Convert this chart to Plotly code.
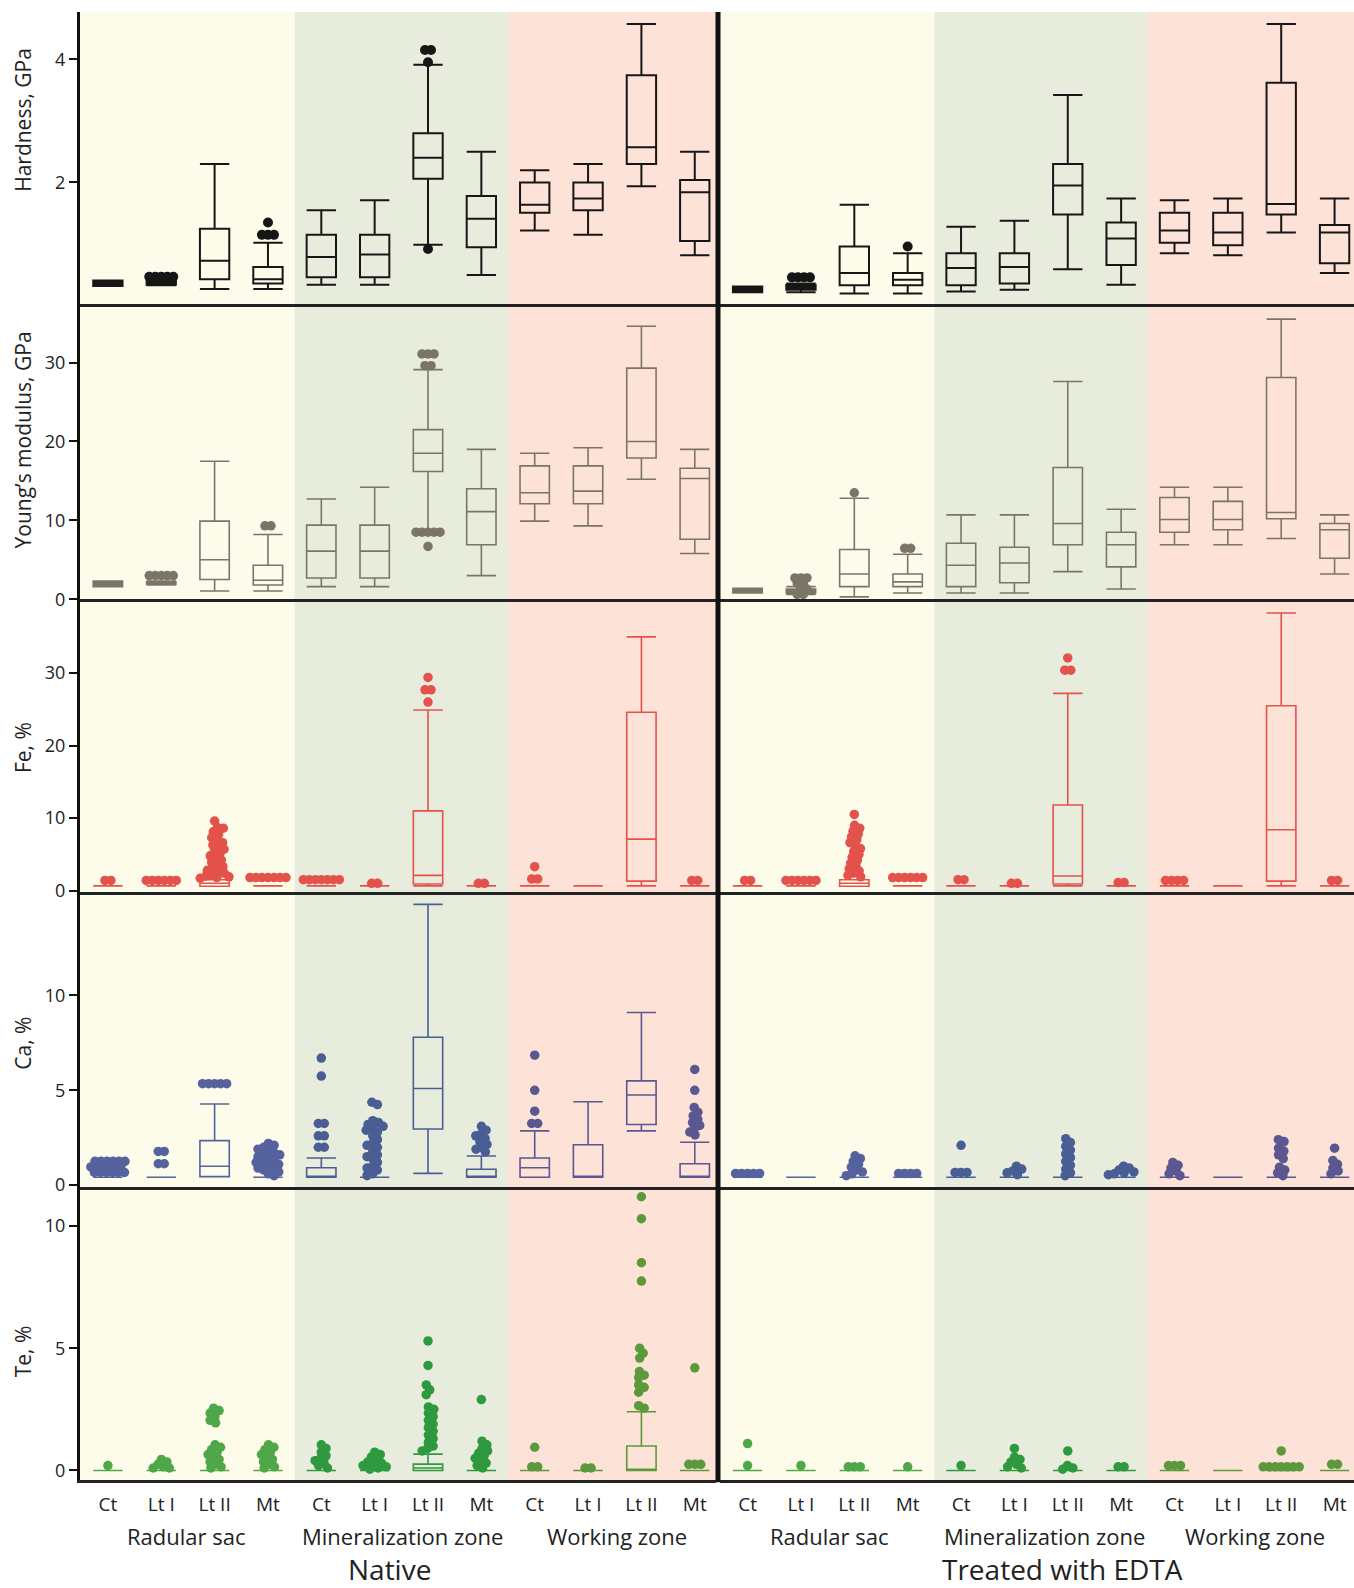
import math
import plotly.graph_objects as go

W = 1354
REF_H = 1588   # pixel targets below are measured in the 1354x1588 picture
FIG_H = 1597   # layout height (the photographed page is fitted to 1588 rows)

categories = ["Ct", "Lt I", "Lt II", "Mt"] * 3
zones = ["Radular sac", "Mineralization zone", "Working zone"]
panels = ["Native", "Treated with EDTA"]

# ---------------- Hardness, GPa ----------------
hard_nat_lo = [0.32, 0.33, 0.27, 0.27, 0.34, 0.34, 0.99, 0.50, 1.22, 1.15, 1.94, 0.82]
hard_nat_q1 = [0.32, 0.34, 0.43, 0.36, 0.46, 0.46, 2.06, 0.95, 1.51, 1.55, 2.30, 1.05]
hard_nat_med = [0.36, 0.37, 0.73, 0.43, 0.79, 0.83, 2.40, 1.41, 1.64, 1.74, 2.57, 1.84]
hard_nat_q3 = [0.41, 0.40, 1.25, 0.63, 1.15, 1.15, 2.80, 1.78, 2.00, 2.00, 3.74, 2.04]
hard_nat_hi = [0.41, 0.42, 2.30, 1.02, 1.55, 1.71, 3.91, 2.50, 2.20, 2.30, 4.57, 2.50]
hard_nat_out = [[], [0.47, 0.47, 0.47, 0.47, 0.47], [], [1.35, 1.15, 1.15, 1.15], [], [],
                [4.15, 4.15, 3.95, 0.92], [], [], [], [], []]

hard_edta_lo = [0.22, 0.22, 0.20, 0.20, 0.23, 0.26, 0.59, 0.34, 0.85, 0.82, 1.19, 0.53]
hard_edta_q1 = [0.22, 0.26, 0.33, 0.33, 0.33, 0.36, 1.48, 0.66, 1.02, 0.98, 1.48, 0.69]
hard_edta_med = [0.26, 0.30, 0.53, 0.42, 0.61, 0.63, 1.95, 1.09, 1.22, 1.19, 1.65, 1.19]
hard_edta_q3 = [0.31, 0.34, 0.96, 0.53, 0.85, 0.85, 2.30, 1.35, 1.51, 1.51, 3.62, 1.31]
hard_edta_hi = [0.31, 0.36, 1.64, 0.85, 1.28, 1.38, 3.42, 1.74, 1.71, 1.74, 4.57, 1.74]
hard_edta_out = [[], [0.46, 0.46, 0.46, 0.46], [], [0.96], [], [], [], [], [], [], [], []]

# ---------------- Young's modulus, GPa ----------------
young_nat_lo = [1.6, 1.8, 1.05, 1.05, 1.6, 1.6, 8.3, 3.0, 9.9, 9.3, 15.2, 5.8]
young_nat_q1 = [1.6, 1.9, 2.5, 1.8, 2.7, 2.7, 16.2, 6.9, 12.1, 12.1, 17.9, 7.6]
young_nat_med = [1.9, 2.0, 5.0, 2.4, 6.1, 6.1, 18.5, 11.1, 13.5, 13.7, 20.0, 15.3]
young_nat_q3 = [2.3, 2.2, 9.9, 4.3, 9.4, 9.4, 21.5, 14.0, 16.9, 16.9, 29.3, 16.6]
young_nat_hi = [2.3, 2.3, 17.5, 8.2, 12.7, 14.2, 29.1, 19.0, 18.5, 19.2, 34.6, 19.0]
young_nat_out = [[], [3.0, 3.0, 3.0, 3.0, 3.0], [], [9.3, 9.3], [], [],
                 [31.1, 31.1, 31.1, 29.6, 29.6, 8.5, 8.5, 8.5, 8.5, 8.5, 6.7], [], [], [], [], []]

young_edta_lo = [0.8, 0.6, 0.3, 0.8, 0.8, 0.8, 3.5, 1.3, 6.9, 6.9, 7.7, 3.2]
young_edta_q1 = [0.8, 0.8, 1.6, 1.6, 1.6, 2.1, 6.9, 4.1, 8.5, 8.8, 10.2, 5.2]
young_edta_med = [1.1, 1.0, 3.2, 2.2, 4.3, 4.6, 9.6, 6.9, 10.1, 10.1, 11.0, 8.8]
young_edta_q3 = [1.4, 1.3, 6.3, 3.2, 7.1, 6.6, 16.7, 8.5, 12.9, 12.4, 28.1, 9.6]
young_edta_hi = [1.4, 1.6, 12.8, 5.7, 10.7, 10.7, 27.6, 11.4, 14.2, 14.2, 35.5, 10.7]
young_edta_out = [[], [2.7, 2.7, 2.7, 2.0, 2.0, 1.3, 1.3, 0.6, 0.6], [13.5], [6.45, 6.45],
                  [], [], [], [], [], [], [], []]

# ---------------- Fe, % ----------------
fe_nat_lo = [0.65, 0.65, 0.6, 0.65, 0.65, 0.65, 0.65, 0.65, 0.65, 0.65, 0.65, 0.65]
fe_nat_q1 = [0.65, 0.65, 0.6, 0.65, 0.65, 0.65, 0.9, 0.65, 0.65, 0.65, 1.3, 0.65]
fe_nat_med = [0.65, 0.65, 1.0, 0.65, 0.65, 0.65, 2.1, 0.65, 0.65, 0.65, 7.1, 0.65]
fe_nat_q3 = [0.65, 0.65, 1.5, 0.65, 0.65, 0.65, 11.0, 0.65, 0.65, 0.65, 24.6, 0.65]
fe_nat_hi = [0.65, 0.65, 1.5, 0.65, 0.65, 0.65, 24.9, 0.65, 0.65, 0.65, 35.0, 0.65]
fe_nat_out = [
    [1.4, 1.4],
    [1.4, 1.4, 1.4, 1.4, 1.4, 1.4],
    [9.6, 8.7, 8.6, 8.1, 7.7, 7.3, 6.9, 6.6, 6.3, 6.0, 5.7, 5.4, 5.1, 4.8, 4.5, 4.2,
     3.9, 3.6, 3.3, 3.0, 2.8, 2.6, 2.4, 2.2, 2.0, 1.9, 1.8, 1.7],
    [1.8, 1.8, 1.8, 1.8, 1.8, 1.8, 1.8],
    [1.5, 1.5, 1.5, 1.5, 1.5, 1.5, 1.5],
    [1.0, 1.0],
    [29.4, 27.7, 27.7, 26.0],
    [1.0, 1.0],
    [3.3, 1.6, 1.6],
    [],
    [],
    [1.4, 1.4],
]

fe_edta_lo = [0.65, 0.65, 0.6, 0.65, 0.65, 0.65, 0.65, 0.65, 0.65, 0.65, 0.65, 0.65]
fe_edta_q1 = [0.65, 0.65, 0.6, 0.65, 0.65, 0.65, 0.9, 0.65, 0.65, 0.65, 1.3, 0.65]
fe_edta_med = [0.65, 0.65, 1.0, 0.65, 0.65, 0.65, 2.0, 0.65, 0.65, 0.65, 8.4, 0.65]
fe_edta_q3 = [0.65, 0.65, 1.5, 0.65, 0.65, 0.65, 11.8, 0.65, 0.65, 0.65, 25.5, 0.65]
fe_edta_hi = [0.65, 0.65, 1.5, 0.65, 0.65, 0.65, 27.2, 0.65, 0.65, 0.65, 38.3, 0.65]
fe_edta_out = [
    [1.4, 1.4],
    [1.4, 1.4, 1.4, 1.4, 1.4, 1.4],
    [10.5, 9.0, 8.6, 8.2, 7.8, 7.4, 7.0, 6.6, 6.2, 5.8, 5.4, 5.0, 4.6, 4.2, 3.8,
     3.4, 3.0, 2.7, 2.4, 2.1, 1.9],
    [1.8, 1.8, 1.8, 1.8, 1.8, 1.8],
    [1.5, 1.5],
    [1.0, 1.0],
    [32.1, 30.4, 30.4],
    [1.1, 1.1],
    [1.4, 1.4, 1.4, 1.4],
    [],
    [],
    [1.4, 1.4],
]

# ---------------- Ca, % ----------------
ca_nat_lo = [0.42, 0.42, 0.45, 0.42, 0.42, 0.42, 0.62, 0.42, 0.42, 0.42, 2.86, 0.42]
ca_nat_q1 = [0.42, 0.42, 0.45, 0.42, 0.42, 0.42, 2.96, 0.42, 0.42, 0.42, 3.20, 0.42]
ca_nat_med = [0.42, 0.42, 1.00, 0.42, 0.42, 0.42, 5.10, 0.42, 0.92, 0.42, 4.75, 0.42]
ca_nat_q3 = [0.42, 0.42, 2.35, 0.42, 0.92, 0.42, 7.80, 0.84, 1.43, 2.13, 5.50, 1.13]
ca_nat_hi = [0.42, 0.42, 4.28, 0.42, 1.43, 0.42, 14.8, 1.54, 2.86, 4.40, 9.10, 2.26]
ca_nat_out = [
    [1.26, 1.26, 1.26, 1.26, 1.26, 1.26, 0.96, 0.96, 0.96, 0.96, 0.96, 0.96,
     0.67, 0.67, 0.67, 0.67, 0.67, 0.67],
    [1.78, 1.78, 1.13, 1.13],
    [5.35, 5.35, 5.35, 5.35, 5.35],
    [2.2, 2.1, 2.0, 1.9, 1.8, 1.7, 1.6, 1.5, 1.4, 1.3, 1.2, 1.1, 1.0, 0.9, 0.8, 0.7,
     0.6, 0.5, 1.6, 1.2, 0.9],
    [6.7, 5.75, 3.25, 3.25, 2.6, 2.6, 2.0, 2.0],
    [4.37, 4.25, 3.4, 3.3, 3.2, 3.1, 3.0, 2.8, 2.6, 2.4, 2.2, 2.0, 1.8, 1.6, 1.4,
     1.2, 1.0, 0.8, 0.6, 0.5, 2.9, 2.1, 1.5, 0.9],
    [],
    [3.1, 2.9, 2.7, 2.6, 2.45, 2.3, 2.15, 2.0, 1.9, 1.75],
    [6.85, 5.0, 3.9, 3.25, 3.25],
    [],
    [],
    [6.1, 5.0, 4.1, 3.85, 3.65, 3.45, 3.3, 3.15, 3.0, 2.8, 2.65],
]

ca_edta_lo = [0.42] * 12
ca_edta_q1 = [0.42] * 12
ca_edta_med = [0.42] * 12
ca_edta_q3 = [0.42] * 12
ca_edta_hi = [0.42] * 12
ca_edta_out = [
    [0.62, 0.62, 0.62, 0.62, 0.62],
    [],
    [1.55, 1.4, 1.25, 1.1, 0.95, 0.8, 0.7, 0.6, 0.5],
    [0.62, 0.62, 0.62, 0.62],
    [2.1, 0.67, 0.67, 0.67],
    [1.0, 0.85, 0.75, 0.65, 0.55],
    [2.45, 2.25, 2.05, 1.85, 1.65, 1.45, 1.25, 1.05, 0.85, 0.65, 0.5],
    [1.0, 0.9, 0.8, 0.7, 0.65, 0.6, 0.55],
    [1.2, 1.05, 0.9, 0.75, 0.6, 0.5],
    [],
    [2.4, 2.3, 1.95, 1.8, 1.6, 1.4, 0.95, 0.8, 0.65, 0.5],
    [1.95, 1.3, 1.1, 0.9, 0.75, 0.6],
]

# ---------------- Te, % ----------------
te_nat_lo = [0.0] * 12
te_nat_q1 = [0.0] * 12
te_nat_med = [0, 0, 0, 0, 0, 0, 0.1, 0, 0, 0, 0.05, 0]
te_nat_q3 = [0, 0, 0, 0, 0, 0, 0.26, 0, 0, 0, 1.0, 0]
te_nat_hi = [0, 0, 0, 0, 0, 0, 0.67, 0, 0, 0, 2.4, 0]
te_nat_out = [
    [0.2],
    [0.45, 0.35, 0.25, 0.15, 0.1, 0.1],
    [2.55, 2.45, 2.35, 2.2, 2.05, 1.95, 1.05, 0.95, 0.85, 0.75, 0.65, 0.55, 0.45,
     0.35, 0.25, 0.15, 0.1],
    [1.05, 0.95, 0.85, 0.75, 0.65, 0.55, 0.45, 0.35, 0.25, 0.15, 0.1],
    [1.05, 0.9, 0.75, 0.6, 0.5, 0.4, 0.3, 0.2, 0.1],
    [0.75, 0.65, 0.55, 0.45, 0.35, 0.3, 0.25, 0.2, 0.15, 0.1, 0.05],
    [5.3, 4.3, 3.5, 3.3, 3.1, 2.6, 2.5, 2.35, 2.2, 2.05, 1.9, 1.75, 1.6, 1.45, 1.3,
     1.15, 1.0, 0.9, 0.8],
    [2.9, 1.2, 1.05, 0.9, 0.8, 0.7, 0.6, 0.5, 0.4, 0.3, 0.2, 0.1],
    [0.95, 0.15, 0.15],
    [0.1, 0.1],
    [11.2, 10.3, 8.5, 7.75, 5.0, 4.8, 4.6, 4.05, 3.9, 3.8, 3.5, 3.4, 3.2, 2.65, 2.55],
    [4.2, 0.25, 0.25, 0.25],
]

te_edta_lo = [0.0] * 12
te_edta_q1 = [0.0] * 12
te_edta_med = [0.0] * 12
te_edta_q3 = [0.0] * 12
te_edta_hi = [0.0] * 12
te_edta_out = [
    [1.1, 0.2],
    [0.2],
    [0.15, 0.15, 0.15],
    [0.15],
    [0.2],
    [0.9, 0.55, 0.45, 0.35, 0.25, 0.15, 0.1],
    [0.8, 0.2, 0.1, 0.05],
    [0.15, 0.15],
    [0.2, 0.2, 0.2],
    [],
    [0.8, 0.15, 0.15, 0.15, 0.15, 0.15, 0.15, 0.15],
    [0.25, 0.25],
]

DATA = {
    "hard": {"nat": (hard_nat_lo, hard_nat_q1, hard_nat_med, hard_nat_q3, hard_nat_hi, hard_nat_out),
             "edta": (hard_edta_lo, hard_edta_q1, hard_edta_med, hard_edta_q3, hard_edta_hi, hard_edta_out)},
    "young": {"nat": (young_nat_lo, young_nat_q1, young_nat_med, young_nat_q3, young_nat_hi, young_nat_out),
              "edta": (young_edta_lo, young_edta_q1, young_edta_med, young_edta_q3, young_edta_hi, young_edta_out)},
    "fe": {"nat": (fe_nat_lo, fe_nat_q1, fe_nat_med, fe_nat_q3, fe_nat_hi, fe_nat_out),
           "edta": (fe_edta_lo, fe_edta_q1, fe_edta_med, fe_edta_q3, fe_edta_hi, fe_edta_out)},
    "ca": {"nat": (ca_nat_lo, ca_nat_q1, ca_nat_med, ca_nat_q3, ca_nat_hi, ca_nat_out),
           "edta": (ca_edta_lo, ca_edta_q1, ca_edta_med, ca_edta_q3, ca_edta_hi, ca_edta_out)},
    "te": {"nat": (te_nat_lo, te_nat_q1, te_nat_med, te_nat_q3, te_nat_hi, te_nat_out),
           "edta": (te_edta_lo, te_edta_q1, te_edta_med, te_edta_q3, te_edta_hi, te_edta_out)},
}

ROWS = [
    dict(key="hard", title="Hardness, GPa", ticks=[2, 4], rng=[0.034, 4.767], ppy=61.7,
         colors=["#161616"] * 3, lw=2.0, title_y=120, msize=10),
    dict(key="young", title="Young\u2019s modulus, GPa", ticks=[0, 10, 20, 30], rng=[0, 37.47], ppy=7.9,
         colors=["#7b7568"] * 3, lw=1.6, title_y=441, msize=9.5),
    dict(key="fe", title="Fe, %", ticks=[0, 10, 20, 30], rng=[-0.18, 40.19], ppy=7.257,
         colors=["#e4524c"] * 3, lw=1.6, title_y=749, msize=9.5),
    dict(key="ca", title="Ca, %", ticks=[0, 5, 10], rng=[-0.07, 15.46], ppy=19.0,
         colors=["#55629d", "#485e95", "#5b5791"], lw=1.6, title_y=1045, msize=9.5),
    dict(key="te", title="Te, %", ticks=[0, 5, 10], rng=[-0.396, 11.62], ppy=24.47,
         colors=["#50a748", "#2e993e", "#5c993c"], lw=1.6, title_y=1353, msize=9.5),
]

ROW_PX = [(12, 304), (304, 600), (600, 893), (893, 1188), (1188, 1482)]
COL_PX = [(80, 716), (720, 1354)]
COL_XRANGE = [[-0.523, 11.398], [-0.517, 11.364]]
ZONE_BG = ["#fdfbea", "#e8ecdd", "#fde2d7"]
FONT = "Open Sans, Noto Sans, DejaVu Sans, sans-serif"
GAP = 6.0
SOLID_BELOW_PX = 6.0   # very flat boxes print as a solid bar


def py(px):
    """paper y fraction of a pixel row measured in the reference picture"""
    return 1 - px / REF_H


def swarm(values, ppy, ppx, d=GAP):
    placed = []
    for v in values:
        y = v * ppy
        cands = [0.0]
        for px, pyy in placed:
            dy = abs(y - pyy)
            if dy < d:
                dx = math.sqrt(d * d - dy * dy)
                cands.extend([px + dx, px - dx])
        cands.sort(key=lambda c: (abs(c), c < 0))
        chosen = cands[-1]
        for cnd in cands:
            if all((cnd - px) ** 2 + (y - pyy) ** 2 >= d * d - 1e-6 for px, pyy in placed):
                chosen = cnd
                break
        placed.append((chosen, y))
    order = sorted(range(len(placed)), key=lambda j: placed[j][1])
    xs = [p[0] for p in placed]
    clusters, cur = [], []
    for j in order:
        if cur and placed[j][1] - placed[cur[-1]][1] >= d:
            clusters.append(cur)
            cur = []
        cur.append(j)
    if cur:
        clusters.append(cur)
    for cl in clusters:
        mid = (max(xs[j] for j in cl) + min(xs[j] for j in cl)) / 2
        for j in cl:
            xs[j] -= mid
    return [x / ppx for x in xs]


fig = go.Figure()
layout = dict(
    width=W, height=FIG_H, margin=dict(l=0, r=0, t=0, b=0),
    paper_bgcolor="white", plot_bgcolor="rgba(0,0,0,0)",
    showlegend=False, boxmode="overlay", font=dict(family=FONT, color="#222"),
)

for r, row in enumerate(ROWS):
    t, b = ROW_PX[r]
    for c, pkey in enumerate(["nat", "edta"]):
        k = r * 2 + c + 1
        sx = "" if k == 1 else str(k)
        x0, x1 = COL_PX[c]
        xr = COL_XRANGE[c]
        ppx = (x1 - x0) / (xr[1] - xr[0])
        lo, q1, med, q3, hi, out = DATA[row["key"]][pkey]
        for i in range(12):
            col = row["colors"][i // 4]
            span = (q3[i] - q1[i]) * row["ppy"]
            fill = col if 0 < span < SOLID_BELOW_PX else "rgba(0,0,0,0)"
            fig.add_trace(go.Box(
                x=[i], q1=[q1[i]], median=[med[i]], q3=[q3[i]],
                lowerfence=[lo[i]], upperfence=[hi[i]], orientation="v",
                width=0.55, whiskerwidth=1, boxpoints=False,
                line=dict(color=col, width=row["lw"]), fillcolor=fill,
                xaxis="x" + sx, yaxis="y" + sx, hoverinfo="skip", showlegend=False))
            if out[i]:
                offs = swarm(out[i], row["ppy"], ppx)
                fig.add_trace(go.Scatter(
                    x=[i + o for o in offs], y=out[i], mode="markers",
                    marker=dict(size=row["msize"], color=col, line=dict(width=0)),
                    xaxis="x" + sx, yaxis="y" + sx, hoverinfo="skip", showlegend=False))
        layout["xaxis" + sx] = dict(
            domain=[x0 / W, x1 / W], range=xr, anchor="y" + sx,
            showgrid=False, zeroline=False, showline=True, linecolor="#222", linewidth=2.5,
            ticks="", tickvals=list(range(12)), ticktext=categories,
            showticklabels=(r == 4), ticklabelstandoff=5,
            tickfont=dict(family=FONT, size=19, color="#222"), fixedrange=True)
        layout["yaxis" + sx] = dict(
            domain=[py(b), py(t)], range=row["rng"], anchor="x" + sx,
            showgrid=False, zeroline=False, showline=(c == 0), linecolor="#111", linewidth=3,
            ticks="outside" if c == 0 else "", ticklen=8, tickwidth=2, tickcolor="#111",
            tickvals=row["ticks"], showticklabels=(c == 0),
            tickfont=dict(family=FONT, size=18, color="#222"), fixedrange=True)

shapes = []
for c in range(2):
    xref = "x" if c == 0 else "x2"
    xr = COL_XRANGE[c]
    for z in range(3):
        sx0 = xr[0] if z == 0 else 4 * z - 0.5
        sx1 = xr[1] if z == 2 else 4 * z + 3.5
        shapes.append(dict(type="rect", xref=xref, yref="paper", x0=sx0, x1=sx1,
                           y0=py(ROW_PX[-1][1]), y1=py(ROW_PX[0][0]),
                           fillcolor=ZONE_BG[z], line=dict(width=0), layer="below"))
shapes.append(dict(type="line", xref="paper", yref="paper", x0=718 / W, x1=718 / W,
                   y0=py(1484), y1=py(ROW_PX[0][0]),
                   line=dict(color="#111", width=5), layer="above"))
layout["shapes"] = shapes

ann = []
for r, row in enumerate(ROWS):
    ann.append(dict(text=row["title"], x=23 / W, y=py(row["title_y"]), xref="paper", yref="paper",
                    textangle=-90, showarrow=False, xanchor="center", yanchor="middle",
                    font=dict(family=FONT, size=21, color="#222")))
zone_x = [[186, 402, 617], [829, 1044, 1255]]
for c in range(2):
    for z in range(3):
        ann.append(dict(text=zones[z], x=zone_x[c][z] / W, y=py(1538), xref="paper", yref="paper",
                        showarrow=False, xanchor="center", yanchor="middle",
                        font=dict(family=FONT, size=22, color="#222")))
panel_x = [389, 1062]
for c in range(2):
    ann.append(dict(text=panels[c], x=panel_x[c] / W, y=py(1571), xref="paper", yref="paper",
                    showarrow=False, xanchor="center", yanchor="middle",
                    font=dict(family=FONT, size=28, color="#222")))
layout["annotations"] = ann

fig.update_layout(**layout)
fig.write_html("out.html")
